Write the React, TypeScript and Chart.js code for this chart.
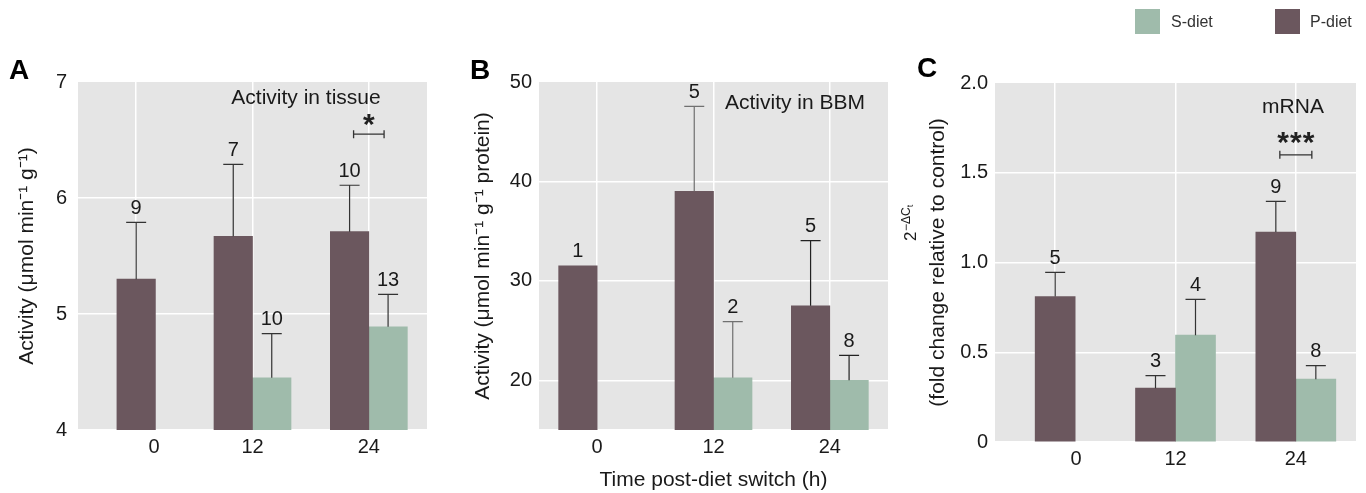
import React, { useEffect, useRef } from 'react';
import { Chart, registerables } from 'chart.js';

Chart.register(...registerables);

const FONT = "'Liberation Sans', Arial, Helvetica, sans-serif";
const P_COLOR = '#6B575E';
const S_COLOR = '#9FBBAB';
const PANEL_BG = '#E5E5E5';
const TEXT = '#1a1a1a';

// ---------- data ----------
const categories = ['0', '12', '24'];
const seriesNames = ['P-diet', 'S-diet'];

// Panel A: activity in tissue
const tissueP = [5.3, 5.67, 5.71];
const tissuePErr = [0.49, 0.62, 0.4];
const tissuePN = [9, 7, 10];
const tissueS = [null, 4.45, 4.89];
const tissueSErr = [null, 0.38, 0.28];
const tissueSN = [null, 10, 13];
const tissueTicks = [4, 5, 6, 7];
const tissueTickLabels = ['4', '5', '6', '7'];
const tissueSigLevel = 6.55;
const tissueSigLabel = '*';

// Panel B: activity in BBM
const bbmP = [31.5, 39.0, 27.5];
const bbmPErr = [null, 8.55, 6.55];
const bbmPN = [1, 5, 5];
const bbmS = [null, 20.25, 20.0];
const bbmSErr = [null, 5.65, 2.5];
const bbmSN = [null, 2, 8];
const bbmTicks = [20, 30, 40, 50];
const bbmTickLabels = ['20', '30', '40', '50'];

// Panel C: mRNA
const mrnaP = [0.81, 0.3, 1.17];
const mrnaPErr = [0.135, 0.07, 0.17];
const mrnaPN = [5, 3, 9];
const mrnaS = [null, 0.595, 0.35];
const mrnaSErr = [null, 0.2, 0.075];
const mrnaSN = [null, 4, 8];
const mrnaTicks = [0, 0.5, 1, 1.5, 2];
const mrnaTickLabels = ['0', '0.5', '1.0', '1.5', '2.0'];
const mrnaSigLevel = 1.6;
const mrnaSigLabel = '***';

type Cfg = any;

const panels: Cfg[] = [
  {
    key: 'A', left: 0, width: 460, letter: 'A', letterX: 9, letterY: 79,
    p: tissueP, pErr: tissuePErr, pN: tissuePN, s: tissueS, sErr: tissueSErr, sN: tissueSN,
    yMin: 4, yMax: 7, yTicks: tissueTicks, yTickLabels: tissueTickLabels, tickPad: 11,
    yWidth: 78, padRight: 33, padTop: 82, xHeight: 63,
    yTitle: 'Activity (μmol min⁻¹ g⁻¹)', yTitlePad: 14.5,
    barThickness: 38.5, skipNull: true, xShift: [18, 0, 0], xLabelDy: 17,
    note: { text: 'Activity in tissue', x: 306, y: 98 },
    sig: { index: 2, value: tissueSigLevel, label: tissueSigLabel, dy: 10 },
    errColors: [['#333', '#333', '#333'], ['#333', '#333', '#333']],
  },
  {
    key: 'B', left: 460, width: 440, letter: 'B', letterX: 10, letterY: 79,
    p: bbmP, pErr: bbmPErr, pN: bbmPN, s: bbmS, sErr: bbmSErr, sN: bbmSN,
    yMin: 15, yMax: 50, yTicks: bbmTicks, yTickLabels: bbmTickLabels, tickPad: 7,
    yWidth: 79, padRight: 12, padTop: 82, xHeight: 63,
    yTitle: 'Activity (μmol min⁻¹ g⁻¹ protein)', yTitlePad: 10.5,
    xTitle: 'Time post-diet switch (h)',
    barThickness: 38.5, skipNull: false, xShift: [0, 0, 0], xLabelDy: 17,
    note: { text: 'Activity in BBM', x: 335, y: 103 },
    errColors: [['#222', '#707070', '#222'], ['#222', '#707070', '#222']],
  },
  {
    key: 'C', left: 900, width: 466, letter: 'C', letterX: 17, letterY: 77,
    p: mrnaP, pErr: mrnaPErr, pN: mrnaPN, s: mrnaS, sErr: mrnaSErr, sN: mrnaSN,
    yMin: 0, yMax: 2, yTicks: mrnaTicks, yTickLabels: mrnaTickLabels, tickPad: 7,
    yWidth: 95, padRight: 10, padTop: 83, xHeight: 51,
    customYTitle: true,
    barThickness: 40, skipNull: true, xShift: [21, 0, 0], xLabelDy: 17,
    note: { text: 'mRNA', x: 393, y: 107 },
    sig: { index: 2, value: mrnaSigLevel, label: mrnaSigLabel, dy: 12.5 },
    errColors: [['#333', '#333', '#333'], ['#333', '#333', '#333']],
    legend: true,
  },
];

function makePlugin(cfg: Cfg) {
  return {
    id: 'panelDecor' + cfg.key,
    beforeDraw(chart: any) {
      const { ctx, chartArea: a } = chart;
      ctx.save();
      ctx.fillStyle = PANEL_BG;
      ctx.fillRect(a.left, a.top, a.right - a.left, a.bottom - a.top);
      ctx.restore();
    },
    afterDatasetsDraw(chart: any) {
      const ctx = chart.ctx;
      const ys = chart.scales.y;
      const errs = [cfg.pErr, cfg.sErr];
      const ns = [cfg.pN, cfg.sN];
      ctx.save();
      chart.data.datasets.forEach((ds: any, di: number) => {
        const meta = chart.getDatasetMeta(di);
        meta.data.forEach((el: any, i: number) => {
          const v = ds.data[i];
          if (v == null) return;
          const e = errs[di][i];
          let top = el.y;
          if (e != null) {
            const ey = ys.getPixelForValue(v + e);
            ctx.strokeStyle = cfg.errColors[di][i];
            ctx.lineWidth = 1.2;
            ctx.beginPath();
            ctx.moveTo(el.x, el.y);
            ctx.lineTo(el.x, ey);
            ctx.moveTo(el.x - 10, ey);
            ctx.lineTo(el.x + 10, ey);
            ctx.stroke();
            top = ey;
          }
          const n = ns[di][i];
          if (n != null) {
            ctx.fillStyle = TEXT;
            ctx.font = `20px ${FONT}`;
            ctx.textAlign = 'center';
            ctx.textBaseline = 'middle';
            ctx.fillText(String(n), el.x, top - 14);
          }
        });
      });
      ctx.restore();
    },
    afterDraw(chart: any) {
      const ctx = chart.ctx;
      const a = chart.chartArea;
      const xs = chart.scales.x;
      const ys = chart.scales.y;
      ctx.save();
      // panel letter
      ctx.fillStyle = '#000';
      ctx.font = `bold 28px ${FONT}`;
      ctx.textAlign = 'left';
      ctx.textBaseline = 'alphabetic';
      ctx.fillText(cfg.letter, cfg.letterX, cfg.letterY);
      // x labels
      ctx.fillStyle = TEXT;
      ctx.font = `20px ${FONT}`;
      ctx.textAlign = 'center';
      ctx.textBaseline = 'middle';
      categories.forEach((c, i) => {
        ctx.fillText(c, xs.getPixelForValue(i) + cfg.xShift[i], a.bottom + cfg.xLabelDy);
      });
      // note
      ctx.font = `21px ${FONT}`;
      ctx.fillText(cfg.note.text, cfg.note.x, cfg.note.y);
      // significance
      if (cfg.sig) {
        const m0 = chart.getDatasetMeta(0).data[cfg.sig.index];
        const m1 = chart.getDatasetMeta(1).data[cfg.sig.index];
        const x1 = m0.x + 4;
        const x2 = m1.x - 4;
        const y = ys.getPixelForValue(cfg.sig.value);
        ctx.strokeStyle = '#333';
        ctx.lineWidth = 1.3;
        ctx.beginPath();
        ctx.moveTo(x1, y);
        ctx.lineTo(x2, y);
        ctx.moveTo(x1, y - 4);
        ctx.lineTo(x1, y + 4);
        ctx.moveTo(x2, y - 4);
        ctx.lineTo(x2, y + 4);
        ctx.stroke();
        ctx.fillStyle = '#222';
        ctx.font = `bold 30px ${FONT}`;
        ctx.textAlign = 'center';
        ctx.textBaseline = 'alphabetic';
        const stars = cfg.sig.label.split('');
        const gap = 12.7;
        const mid = (x1 + x2) / 2;
        stars.forEach((st: string, k: number) => {
          const sx = mid + (k - (stars.length - 1) / 2) * gap;
          ctx.fillText(st, sx, y - cfg.sig.dy + 10);
        });
      }
      // custom y title (panel C)
      if (cfg.customYTitle) {
        const cy = (a.top + a.bottom) / 2;
        ctx.save();
        ctx.translate(38, cy);
        ctx.rotate(-Math.PI / 2);
        ctx.fillStyle = TEXT;
        ctx.font = `21px ${FONT}`;
        ctx.textAlign = 'center';
        ctx.textBaseline = 'middle';
        ctx.fillText('(fold change relative to control)', 0, 0);
        ctx.restore();
        ctx.save();
        ctx.translate(16, 241);
        ctx.rotate(-Math.PI / 2);
        ctx.fillStyle = TEXT;
        ctx.textAlign = 'left';
        ctx.textBaseline = 'alphabetic';
        ctx.font = `17px ${FONT}`;
        ctx.fillText('2', 0, 0);
        const w2 = ctx.measureText('2').width;
        ctx.font = `12px ${FONT}`;
        ctx.fillText('−ΔC', w2 + 0.5, -6);
        const w = ctx.measureText('−ΔC').width;
        ctx.font = `9px ${FONT}`;
        ctx.fillText('t', w2 + 0.5 + w, -3.5);
        ctx.restore();
      }
      // legend (panel C)
      if (cfg.legend) {
        const items = [
          { name: seriesNames[1], color: S_COLOR, box: 235, tx: 271 },
          { name: seriesNames[0], color: P_COLOR, box: 375, tx: 410 },
        ];
        ctx.font = `16px ${FONT}`;
        ctx.textAlign = 'left';
        ctx.textBaseline = 'middle';
        items.forEach((it) => {
          ctx.fillStyle = it.color;
          ctx.fillRect(it.box, 9, 25, 25);
          ctx.fillStyle = '#333';
          ctx.fillText(it.name, it.tx, 23);
        });
      }
      ctx.restore();
    },
  };
}

function Panel({ cfg }: { cfg: Cfg }) {
  const ref = useRef<HTMLCanvasElement | null>(null);
  useEffect(() => {
    if (!ref.current) return;
    const chart = new Chart(ref.current, {
      type: 'bar',
      data: {
        labels: categories,
        datasets: [
          { label: seriesNames[0], data: cfg.p, backgroundColor: P_COLOR, borderWidth: 0 },
          { label: seriesNames[1], data: cfg.s, backgroundColor: S_COLOR, borderWidth: 0 },
        ],
      },
      options: {
        animation: false,
        responsive: false,
        maintainAspectRatio: false,
        layout: { padding: { left: 0, right: cfg.padRight, top: cfg.padTop, bottom: 0 } },
        datasets: { bar: { skipNull: cfg.skipNull, barThickness: cfg.barThickness } },
        plugins: { legend: { display: false }, tooltip: { enabled: false } },
        scales: {
          x: {
            type: 'category',
            offset: true,
            grid: { offset: false, color: '#ffffff', lineWidth: 1.5, drawTicks: false },
            border: { display: true, color: '#ffffff', width: 1.5 },
            ticks: { display: false },
            afterFit: (s: any) => { s.height = cfg.xHeight; },
            title: {
              display: !!cfg.xTitle,
              text: cfg.xTitle || '',
              color: TEXT,
              font: { family: FONT, size: 21 },
              padding: { top: 0, bottom: 0 },
            },
          },
          y: {
            min: cfg.yMin,
            max: cfg.yMax,
            afterBuildTicks: (s: any) => { s.ticks = cfg.yTicks.map((v: number) => ({ value: v })); },
            grid: {
              color: (c: any) => (c.tick && c.tick.value === cfg.yMax ? 'rgba(0,0,0,0)' : '#ffffff'),
              lineWidth: 1.5,
              drawTicks: false,
            },
            border: { display: false },
            ticks: {
              padding: cfg.tickPad,
              color: TEXT,
              font: { family: FONT, size: 20 },
              callback: (_v: any, i: number) => cfg.yTickLabels[i],
            },
            afterFit: (s: any) => { s.width = cfg.yWidth; },
            title: {
              display: !!cfg.yTitle,
              text: cfg.yTitle || '',
              color: TEXT,
              font: { family: FONT, size: 21 },
              padding: { top: cfg.yTitlePad || 0, bottom: 0 },
            },
          },
        },
      },
      plugins: [makePlugin(cfg)],
    } as any);
    return () => chart.destroy();
  }, [cfg]);
  return (
    <canvas
      ref={ref}
      width={cfg.width}
      height={493}
      style={{ position: 'absolute', left: cfg.left, top: 0, width: cfg.width, height: 493 }}
    />
  );
}

export default function App() {
  return (
    <div style={{ position: 'absolute', left: 0, top: 0, width: 1366, height: 493, background: '#fff', overflow: 'hidden' }}>
      {panels.map((p) => (
        <Panel key={p.key} cfg={p} />
      ))}
    </div>
  );
}
